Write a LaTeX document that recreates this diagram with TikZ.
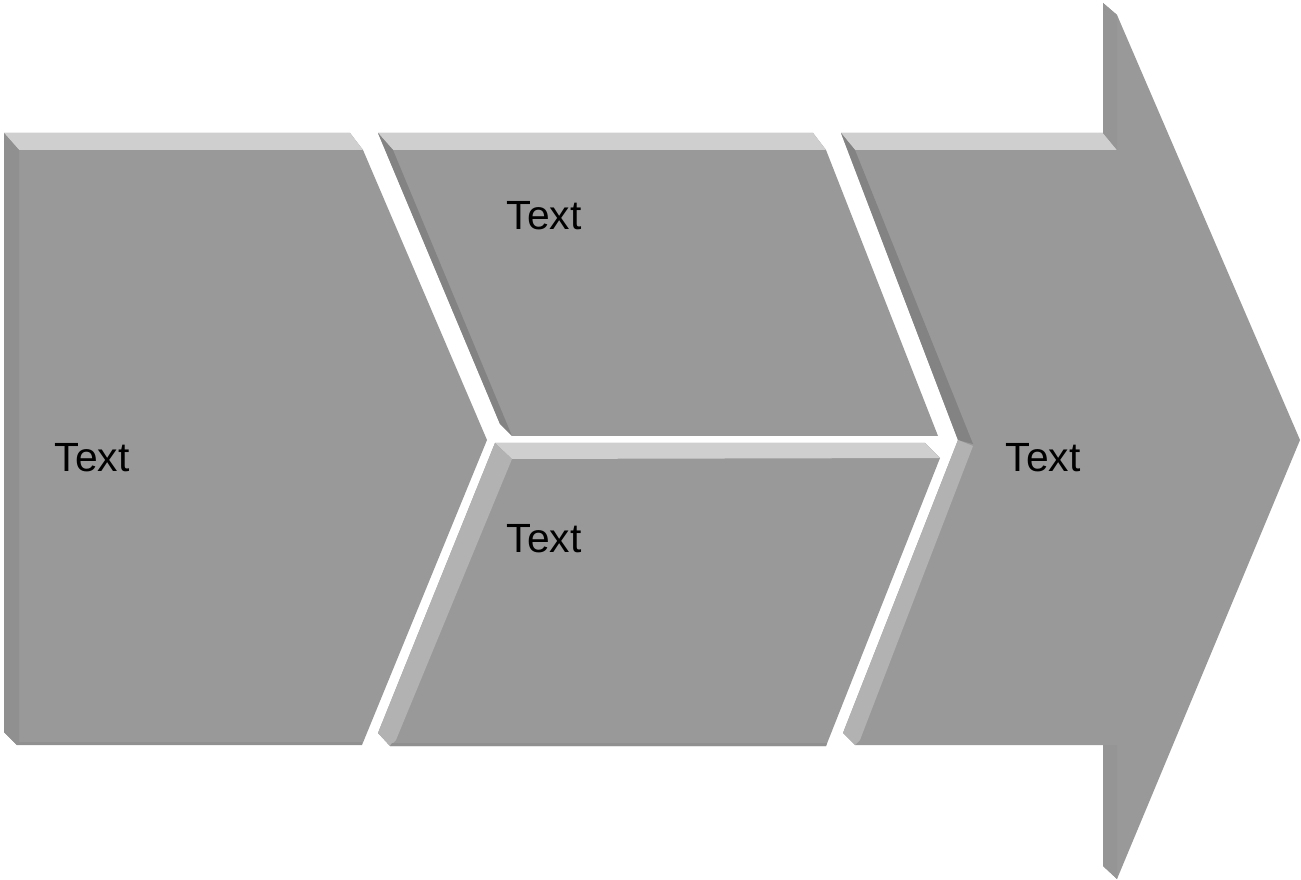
\documentclass[tikz,border=0pt]{standalone}
\usepackage{fontspec}
\setmainfont{Liberation Sans}
\usepackage{tikz}

\definecolor{facegray}{HTML}{999999}
\definecolor{topgray}{HTML}{CFCFCF}
\definecolor{darkgray}{HTML}{838383}
\definecolor{lightgray}{HTML}{B2B2B2}
\definecolor{edgegray}{HTML}{909090}
\definecolor{shaftgray}{HTML}{959595}

\tikzset{
  face/.style={fill=facegray},
  topbevel/.style={fill=topgray},
  darkbevel/.style={fill=darkgray},
  lightbevel/.style={fill=lightgray},
  sidebevel/.style={fill=edgegray},
  shaftbevel/.style={fill=shaftgray},
  textlabel/.style={font=\fontsize{11.6}{14}\selectfont, text=black, inner sep=0pt}
}

\begin{document}
\begin{tikzpicture}[x=0.01cm,y=-0.01cm]
\useasboundingbox (0,0) rectangle (1301,880);

% left block
\fill[face] (4,133)--(350,133)--(363,150)--(487,440)--(362,745)--(17,745)--(4,732)--cycle;
\fill[topbevel] (4,133)--(350,133)--(363,150)--(19,150)--cycle;
\fill[sidebevel] (4,133)--(19,150)--(19,743)--(17,745)--(4,732)--cycle;
\fill[edgegray] (17,742)--(362,742)--(362,745)--(17,745)--cycle;

% upper middle block
\fill[face] (378,133)--(813,133)--(826,150)--(938,436)--(512,436)--(500,424)--cycle;
\fill[topbevel] (378,133)--(813,133)--(826,150)--(393,150)--cycle;
\fill[darkbevel] (378,133)--(393,150)--(512,436)--(500,424)--cycle;

% lower middle block
\fill[face] (495,443)--(925,443)--(940,458)--(826,746)--(390,746)--(378,733)--cycle;
\fill[topbevel] (495,443)--(925,443)--(940,458)--(512,459)--cycle;
\fill[lightbevel] (495,443)--(512,459)--(396,740)--(390,746)--(378,733)--cycle;
\fill[edgegray] (392,743)--(827,743)--(826,746)--(390,746)--cycle;

% right arrow
\fill[face] (841,133)--(1103,133)--(1103,3)--(1117,15)--(1300,440)--(1117,879)--(1103,866)
  --(1103,745)--(855,745)--(843,733)--(958,440)--cycle;
\fill[topbevel] (841,133)--(1103,133)--(1117,150)--(855,150)--cycle;
\fill[shaftbevel] (1103,3)--(1117,15)--(1117,150)--(1103,133)--cycle;
\fill[shaftbevel] (1103,745)--(1117,745)--(1117,879)--(1103,866)--cycle;
\fill[darkbevel] (841,133)--(855,150)--(973,444)--(958,440)--cycle;
\fill[lightbevel] (958,440)--(973,446)--(860,740)--(855,745)--(843,733)--cycle;

% labels
\node[textlabel] (left) at (92,458) {Text};
\node[textlabel] (upper) at (544,216) {Text};
\node[textlabel] (lower) at (544,539) {Text};
\node[textlabel] (arrow) at (1043,458) {Text};
\end{tikzpicture}
\end{document}
